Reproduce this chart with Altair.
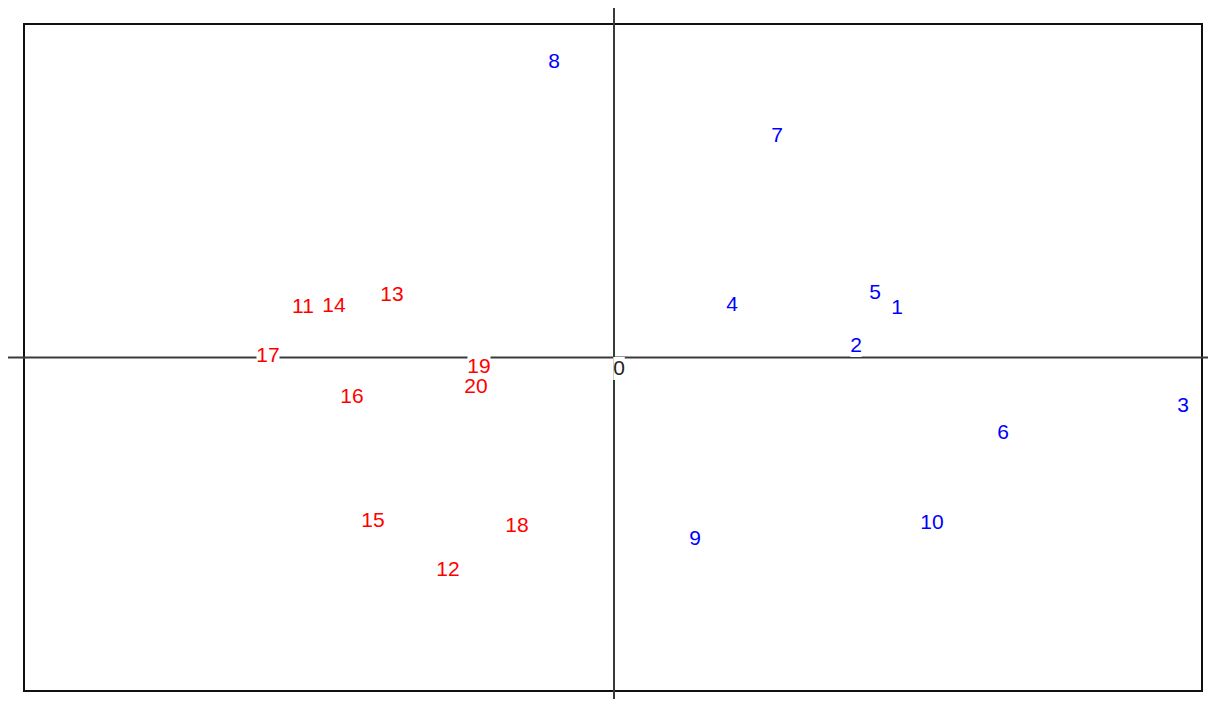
import altair as alt
import pandas as pd

# point labels and their scores
labels = [str(i) for i in range(1, 21)]
xs = [2.83, 2.42, 5.69, 1.18, 2.61, 3.89, 1.63, -0.60, 0.81, 3.18,
      -3.11, -1.66, -2.22, -2.80, -2.41, -2.62, -3.46, -0.97, -1.35, -1.38]
ys = [0.50, 0.12, -0.48, 0.53, 0.65, -0.75, 2.22, 2.96, -1.81, -1.65,
      0.51, -2.12, 0.63, 0.52, -1.63, -0.39, 0.02, -1.68, -0.09, -0.29]
groups = ["A"] * 10 + ["B"] * 10
group_names = ["A", "B"]
group_colors = ["#0000ff", "#ff0000"]

x_domain = [-5.90, 5.88]
y_domain = [-3.335, 3.335]

W, H = 1178, 667
PAD = {"left": 16, "top": 16, "right": 6, "bottom": 8}

df = pd.DataFrame({"x": xs, "y": ys, "label": labels, "grp": groups})
df["nd"] = df["label"].str.len().astype(str)

xs_ = alt.Scale(domain=x_domain, nice=False, zero=False)
ys_ = alt.Scale(domain=y_domain, nice=False, zero=False)

FONT = "Liberation Sans"
FS = 21

# white label boxes (custom symbol paths, unit = sqrt(size)/2 = 12px)
BOX_SIZE = 576
box_shapes = ["M-0.48,-0.96L0.48,-0.96L0.48,0.96L-0.48,0.96Z",
              "M-0.96,-0.96L0.96,-0.96L0.96,0.96L-0.96,0.96Z"]

X = lambda: alt.X("x:Q", scale=xs_, axis=None)
Y = lambda: alt.Y("y:Q", scale=ys_, axis=None)

hline = alt.Chart(pd.DataFrame({"v": [0]})).mark_rule(
    color="#3a3a3a", strokeWidth=2, clip=False
).encode(
    y=alt.Y("v:Q", scale=ys_, axis=None),
    x=alt.value(-PAD["left"]),
    x2=alt.value(W + PAD["right"]),
)

vline = alt.Chart(pd.DataFrame({"v": [0]})).mark_rule(
    color="#3a3a3a", strokeWidth=2, clip=False
).encode(
    x=alt.X("v:Q", scale=xs_, axis=None),
    y=alt.value(-PAD["top"]),
    y2=alt.value(H + PAD["bottom"]),
)

origin = pd.DataFrame({"x": [0], "y": [0], "label": ["0"], "nd": ["1"]})
shape_enc = alt.Shape("nd:N", scale=alt.Scale(domain=["1", "2"], range=box_shapes), legend=None)

origin_box = alt.Chart(origin).mark_point(
    filled=True, fill="white", opacity=1, strokeWidth=0, size=BOX_SIZE, xOffset=5, yOffset=11
).encode(x=X(), y=Y(), shape=shape_enc)
origin_txt = alt.Chart(origin).mark_text(
    font=FONT, fontSize=FS, align="center", baseline="middle", dx=5, dy=11, color="#222222"
).encode(x=X(), y=Y(), text="label:N")

boxes = alt.Chart(df).mark_point(
    filled=True, fill="white", opacity=1, strokeWidth=0, size=BOX_SIZE
).encode(x=X(), y=Y(), shape=shape_enc)

txt = alt.Chart(df).mark_text(
    font=FONT, fontSize=FS, align="center", baseline="middle"
).encode(
    x=X(),
    y=Y(),
    text="label:N",
    color=alt.Color("grp:N", scale=alt.Scale(domain=group_names, range=group_colors), legend=None),
)

chart = alt.layer(hline, vline, origin_box, origin_txt, boxes, txt).properties(
    width=W, height=H, padding=PAD,
    autosize=alt.AutoSizeParams(type="none"),
    background="white",
).configure_view(stroke="#111111", strokeWidth=2)

chart.save("out.html", embed_options={"renderer": "svg", "actions": False})
